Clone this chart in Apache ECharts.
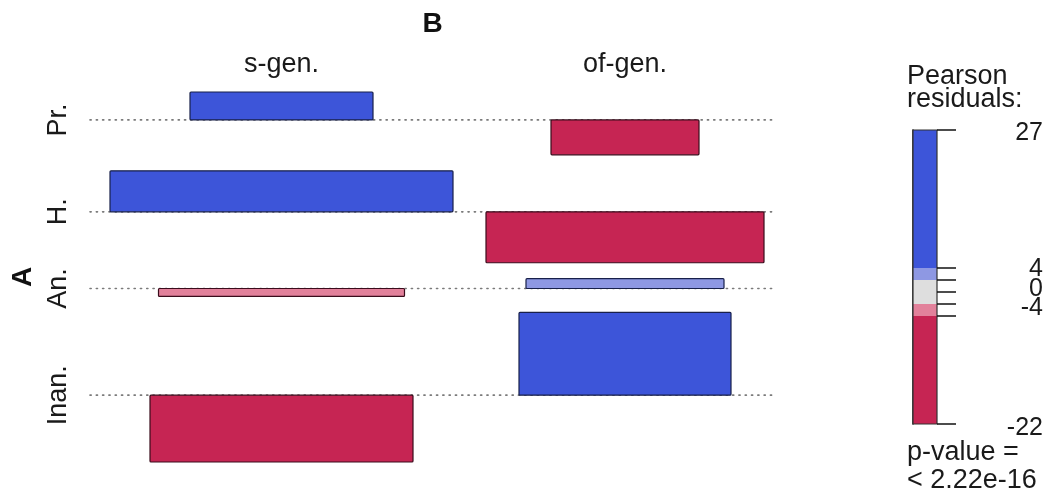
<!DOCTYPE html>
<html>
<head>
<meta charset="utf-8">
<script src="https://cdn.jsdelivr.net/npm/echarts@6/dist/echarts.min.js"></script>
<style>
html,body{margin:0;padding:0;background:#fff;}
#chart{width:1047px;height:496px;}
</style>
</head>
<body>
<div id="chart"></div>
<script>
// ---- data ----
const rows = ['Pr.', 'H.', 'An.', 'Inan.'];
const cols = ['s-gen.', 'of-gen.'];
const residualsSGen = [9.1, 13.4, -2.6, -21.8];
const residualsOfGen = [-11.4, -16.6, 3.2, 27.0];
const widthsSGen = [183, 343, 246, 263];
const widthsOfGen = [148, 278, 198, 212];
const legendTicks = [27, 4, 2, 0, -2, -4, -22];
const legendLabels = [27, 4, 0, -4, -22];
const legendBreaks = [-22, -4, -2, 2, 4, 27];

// ---- styles ----
const C_DBLUE = '#3D55D9', C_LBLUE = '#8E98E3', C_GREY = '#DEDEDE', C_LPINK = '#E2819B', C_DRED = '#C62553';
const legendColors = [C_DRED, C_LPINK, C_GREY, C_LBLUE, C_DBLUE];
const legendLabelNudge = {'27': 3, '4': 1, '0': -3, '-4': -8, '-22': 4}; // px, avoid overlap like R does
function shade(r) {
  if (r > 4) return C_DBLUE;
  if (r > 2) return C_LBLUE;
  if (r >= -2) return C_GREY;
  if (r >= -4) return C_LPINK;
  return C_DRED;
}

// ---- layout derived from data ----
const residuals = [residualsSGen, residualsOfGen];
const widths = [widthsSGen, widthsOfGen];
const gapY = 5.2, padX = 20, gapX = 33, padRight = 11;
const baselines = [];
let rowTop = 0;
for (let i = 0; i < rows.length; i++) {
  const vals = [residualsSGen[i], residualsOfGen[i]];
  const maxPos = Math.max(0, ...vals);
  const maxNeg = Math.max(0, ...vals.map(v => -v));
  baselines.push(rowTop + maxPos);
  rowTop = rowTop + maxPos + maxNeg + (i < rows.length - 1 ? gapY : 0);
}
const yTotal = rowTop;
const colMax = [Math.max(...widthsSGen), Math.max(...widthsOfGen)];
const colCenters = [padX + colMax[0] / 2, padX + colMax[0] + gapX + colMax[1] / 2];
const xMax = padX + colMax[0] + gapX + colMax[1] + padRight;

const barData = [];
for (let j = 0; j < cols.length; j++) {
  for (let i = 0; i < rows.length; i++) {
    barData.push([colCenters[j], baselines[i], residuals[j][i], widths[j][i]]);
  }
}
const legendData = legendColors.map((c, k) => [legendBreaks[k], legendBreaks[k + 1], k]);

const FONT = "'Liberation Sans', Arial, Helvetica, sans-serif";
const FS = 27;

const chart = echarts.init(document.getElementById('chart'), null, {renderer: 'canvas'});
chart.setOption({
  animation: false,
  backgroundColor: '#fff',
  textStyle: {fontFamily: FONT},
  title: [
    {text: 'Pearson\nresiduals:', left: 902, top: 60,
     textStyle: {fontSize: FS, fontWeight: 'normal', color: '#1a1a1a', lineHeight: 23, fontFamily: FONT}},
    {text: 'p-value =\n< 2.22e-16', left: 902, top: 434,
     textStyle: {fontSize: FS, fontWeight: 'normal', color: '#1a1a1a', lineHeight: 28, fontFamily: FONT}}
  ],
  grid: [
    {left: 90, top: 92, width: xMax, height: 370},
    {left: 913, top: 130, width: 24, height: 294}
  ],
  xAxis: [
    {gridIndex: 0, type: 'value', min: 0, max: xMax, position: 'top',
     axisLine: {show: false}, axisTick: {show: false}, splitLine: {show: false},
     axisLabel: {customValues: colCenters, margin: 14, fontSize: FS, color: '#1a1a1a', fontFamily: FONT,
       formatter: v => cols[colCenters.findIndex(c => Math.abs(c - v) < 1e-6)] || ''},
     name: 'B', nameLocation: 'middle', nameGap: 54,
     nameTextStyle: {fontSize: 28, fontWeight: 'bold', color: '#111', fontFamily: FONT}},
    {gridIndex: 1, type: 'value', min: 0, max: 1, show: false}
  ],
  yAxis: [
    {gridIndex: 0, type: 'value', min: 0, max: yTotal, inverse: true,
     axisLine: {show: false}, axisTick: {show: false}, splitLine: {show: false},
     axisLabel: {customValues: baselines, rotate: 90, margin: 18, fontSize: FS, color: '#1a1a1a', fontFamily: FONT,
       formatter: v => rows[baselines.findIndex(b => Math.abs(b - v) < 1e-6)] || ''},
     name: 'A', nameLocation: 'middle', nameRotate: 90, nameGap: 52,
     nameTextStyle: {fontSize: 28, fontWeight: 'bold', color: '#111', fontFamily: FONT}},
    {gridIndex: 1, type: 'value', min: -22, max: 27, position: 'right',
     axisLine: {show: true, lineStyle: {color: '#111', width: 1.5}},
     axisTick: {show: false}, splitLine: {show: false}, axisLabel: {show: false}}
  ],
  series: [
    {
      type: 'custom', xAxisIndex: 0, yAxisIndex: 0, z: 1, silent: true,
      data: baselines.map(b => [b]),
      renderItem: (params, api) => {
        const b = api.value(0);
        const p0 = api.coord([0, b]), p1 = api.coord([xMax, b]);
        return {type: 'line', shape: {x1: p0[0], y1: p0[1], x2: p1[0], y2: p1[1]},
          style: {stroke: '#7a7a7a', lineWidth: 1.6, lineDash: [1.2, 5.1], lineCap: 'round'}};
      }
    },
    {
      type: 'custom', xAxisIndex: 0, yAxisIndex: 0, z: 2, silent: true,
      data: barData,
      renderItem: (params, api) => {
        const cx = api.value(0), b = api.value(1), r = api.value(2), w = api.value(3);
        const p0 = api.coord([cx - w / 2, b]);
        const p1 = api.coord([cx + w / 2, b - r]);
        const fill = shade(r);
        return {type: 'rect',
          shape: {x: Math.min(p0[0], p1[0]), y: Math.min(p0[1], p1[1]),
                  width: Math.abs(p1[0] - p0[0]), height: Math.abs(p1[1] - p0[1]), r: 1},
          style: {fill: fill, stroke: r > 0 ? '#18204a' : '#3a0c1c', lineWidth: 1.2}};
      }
    },
    {
      type: 'custom', xAxisIndex: 1, yAxisIndex: 1, z: 2, silent: true,
      data: legendData,
      renderItem: (params, api) => {
        const lo = api.value(0), hi = api.value(1), k = api.value(2);
        const p0 = api.coord([0, lo]), p1 = api.coord([1, hi]);
        return {type: 'rect',
          shape: {x: p0[0], y: p1[1], width: p1[0] - p0[0], height: p0[1] - p1[1]},
          style: {fill: legendColors[k]}};
      }
    },
    {
      type: 'custom', xAxisIndex: 1, yAxisIndex: 1, z: 3, silent: true,
      data: [[legendBreaks[0], legendBreaks[legendBreaks.length - 1]]],
      renderItem: (params, api) => {
        const p0 = api.coord([0, api.value(0)]), p1 = api.coord([1, api.value(1)]);
        return {type: 'rect',
          shape: {x: p0[0], y: p1[1], width: p1[0] - p0[0], height: p0[1] - p1[1]},
          style: {fill: 'none', stroke: '#333', lineWidth: 1.2}};
      }
    },
    {
      type: 'custom', xAxisIndex: 1, yAxisIndex: 1, z: 4, silent: true, clip: false,
      data: legendTicks.map(v => [v]),
      renderItem: (params, api) => {
        const p = api.coord([1, api.value(0)]);
        return {type: 'line', shape: {x1: p[0], y1: p[1], x2: p[0] + 19, y2: p[1]},
          style: {stroke: '#111', lineWidth: 1.5}};
      }
    },
    {
      type: 'custom', xAxisIndex: 1, yAxisIndex: 1, z: 4, silent: true, clip: false,
      data: legendLabels.map(v => [v]),
      renderItem: (params, api) => {
        const v = api.value(0);
        const p = api.coord([1, v]);
        return {type: 'text', x: p[0] + 106, y: p[1] + (legendLabelNudge[String(v)] || 0),
          style: {text: String(v), textAlign: 'right', textVerticalAlign: 'middle',
                  font: '25px ' + FONT, fill: '#1a1a1a'}};
      }
    }
  ]
});
</script>
</body>
</html>
